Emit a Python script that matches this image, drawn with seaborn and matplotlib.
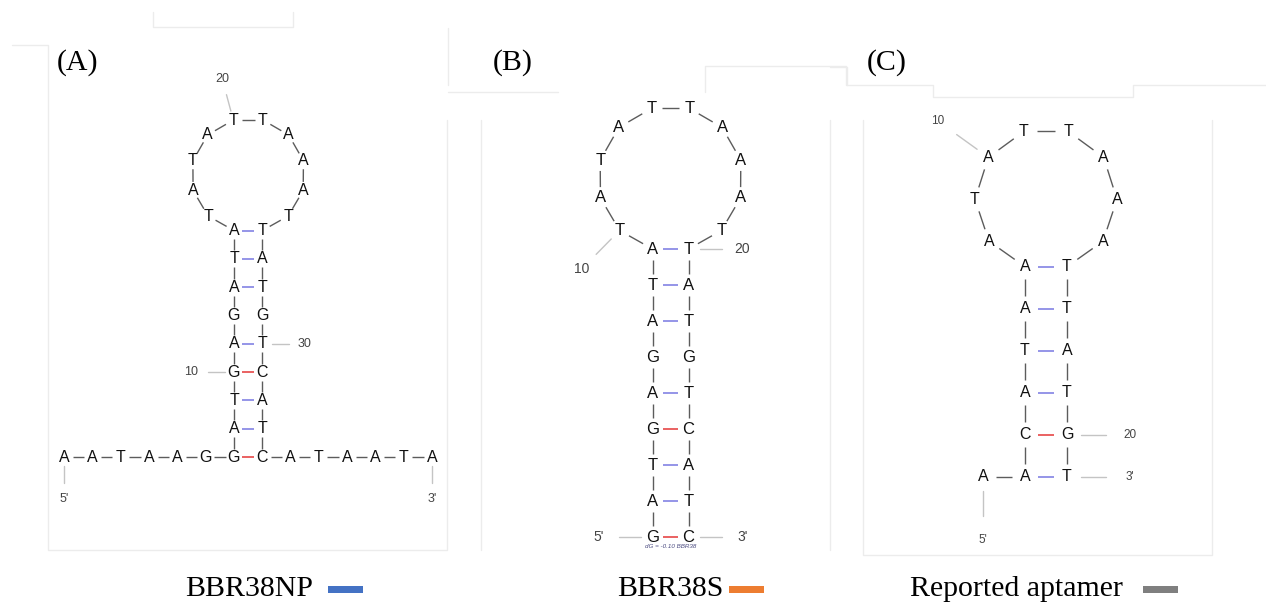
import numpy as np
import matplotlib
matplotlib.use("Agg")
import matplotlib.pyplot as plt
from matplotlib.patches import Rectangle
import seaborn as sns

# ---------------- data ----------------
seq_A = "AATAAGGATGAGATATATATTAAATTATGTCATCATAATA"
db_A = "......(((((.(((..........))).)))))......"
seq_B = "GATGAGATATATATTAAATTATGTCATC"
db_B = "(((((.(((..........))).)))))"
seq_C = "AACATAAATATTAAATTATGT"
db_C = ".((((((........))))))"
panel_labels = ["(A)", "(B)", "(C)"]
legend_names = ["BBR38NP", "BBR38S", "Reported aptamer"]
legend_colors = ["#4472C4", "#ED7D31", "#7F7F7F"]
energy_note = "dG = -0.10 BBR38"

sns.set_theme(style="white")
plt.rcParams["font.family"] = ["Liberation Sans", "DejaVu Sans"]
palette = sns.color_palette(legend_colors)

fig = plt.figure(figsize=(12.66, 6.07), dpi=100)
ax = fig.add_axes([0, 0, 1, 1])
ax.set_xlim(0, 1266)
ax.set_ylim(607, 0)
ax.axis("off")


def layout(db, x0, y0, d, loop_k=1.045):
    n = len(db)
    stack, pair = [], {}
    for i, c in enumerate(db):
        if c == "(":
            stack.append(i)
        elif c == ")":
            j = stack.pop()
            pair[i] = j
            pair[j] = i
    i0 = db.index("(")
    j0 = pair[i0]
    first_close = db.index(")")
    ih = max(k for k in range(first_close) if db[k] == "(")
    jh = pair[ih]
    pos, kind = {}, {}
    for k in range(ih - i0 + 1):
        pos[i0 + k] = (x0, y0 - k * d)
        kind[i0 + k] = "L"
        pos[j0 - k] = (x0 + d, y0 - k * d)
        kind[j0 - k] = "R"
    nl = jh - ih - 1
    R = loop_k * d / (2 * np.sin(np.pi / (nl + 2)))
    a = np.arcsin(d / 2 / R)
    ytop = y0 - (ih - i0) * d
    cx, cy = x0 + d / 2, ytop - np.sqrt(R ** 2 - (d / 2) ** 2)
    for k in range(1, nl + 1):
        th = -a - k * (2 * np.pi - 2 * a) / (nl + 1)
        pos[ih + k] = (cx + R * np.sin(th), cy + R * np.cos(th))
        kind[ih + k] = "O"
    for idx in range(0, i0):
        pos[idx] = (x0 - (i0 - idx) * d, y0)
        kind[idx] = "T"
    for idx in range(j0 + 1, n):
        pos[idx] = (x0 + d + (idx - j0) * d, y0)
        kind[idx] = "T"
    return pos, kind, pair, (cx, cy)


def seg(p, q, g, **kw):
    p, q = np.array(p), np.array(q)
    u = (q - p) / np.linalg.norm(q - p)
    a, b = p + g * u, q - g * u
    ax.plot([a[0], b[0]], [a[1], b[1]], solid_capstyle="butt", **kw)


def draw(seq, db, x0, y0, d, fs, lfs):
    pos, kind, pair, (cx, cy) = layout(db, x0, y0, d)
    n = len(seq)
    g = 0.3 * d
    for i in range(n - 1):
        seg(pos[i], pos[i + 1], g, color="#5c5c5c", lw=1.0)
    for i, j in pair.items():
        if i < j:
            bp = {seq[i], seq[j]}
            if bp == {"G", "C"}:
                col = "#e85555"
            elif bp == {"A", "T"}:
                col = "#8c8ce6"
            else:
                continue
            seg(pos[i], pos[j], g, color=col, lw=1.3)
    for i in range(n):
        ax.text(pos[i][0], pos[i][1], seq[i], ha="center", va="center",
                fontsize=fs, color="#111111", family="Liberation Sans")
    labels = {0: "5'", n - 1: "3'"}
    for i in range(9, n - 1, 10):
        labels[i] = str(i + 1)
    for i, t in labels.items():
        p = np.array(pos[i])
        if kind[i] == "T":
            u = np.array([0.0, 1.0])
        elif kind[i] == "L":
            u = np.array([-1.0, 0.0])
        elif kind[i] == "R":
            u = np.array([1.0, 0.0])
        else:
            u = p - np.array([cx, cy])
            u = u / np.linalg.norm(u)
        a, b = p + 0.33 * d * u, p + 0.93 * d * u
        ax.plot([a[0], b[0]], [a[1], b[1]], color="#c4c4c4", lw=1.0)
        tp = p + 1.5 * d * u
        ax.text(tp[0], tp[1], t, ha="center", va="center", fontsize=lfs,
                color="#444444", family="Liberation Sans")
    return pos


# faint frame lines of the original screenshot panels
frames = [
    [(12, 45), (48, 45), (48, 550), (447, 550), (447, 120)],
    [(153, 12), (153, 27), (293, 27), (293, 12)],
    [(448, 28), (448, 85)],
    [(448, 92), (558, 92)],
    [(481, 120), (481, 550)],
    [(830, 120), (830, 550)],
    [(705, 92), (705, 66), (846, 66), (846, 85), (933, 85), (933, 97),
     (1133, 97), (1133, 85), (1266, 85)],
    [(830, 67), (847, 67), (847, 85)],
    [(863, 120), (863, 555), (1212, 555), (1212, 120)],
]
for fr in frames:
    xs, ys = zip(*fr)
    ax.plot(xs, ys, color="#ececec", lw=1.0)

draw(seq_A, db_A, 234, 457, 28.3, 11.5, 9)
posB = draw(seq_B, db_B, 652.5, 537, 36, 12, 10)
draw(seq_C, db_C, 1025, 476.7, 42, 11.5, 8.5)

ax.text((posB[0][0] + posB[len(seq_B) - 1][0]) / 2, posB[0][1] + 9, energy_note,
        ha="center", va="center", fontsize=4.5, style="italic", color="#4a4a80")

for lab, x in zip(panel_labels, [57, 493, 867]):
    ax.text(x, 63, lab, ha="left", va="center", fontsize=21.5,
            family="Liberation Serif", color="black")

leg_x = [185, 617, 910]
rect_x = [328, 729, 1143]
for name, x, rx, c in zip(legend_names, leg_x, rect_x, palette):
    ax.text(x, 589, name, ha="left", va="center", fontsize=21.5,
            family="Liberation Serif", color="black")
    ax.add_patch(Rectangle((rx, 585.5), 35, 7, color=c, lw=0))

fig.savefig("out.png", dpi=100)
